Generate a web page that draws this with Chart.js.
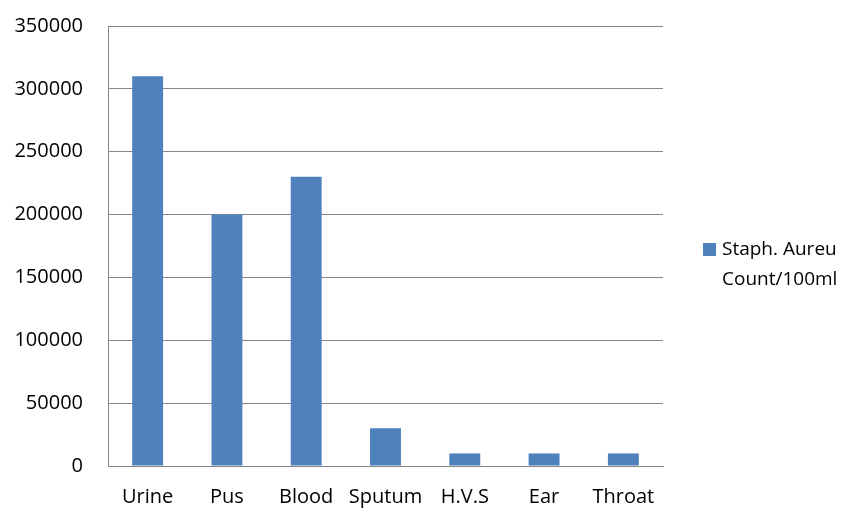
<!DOCTYPE html>
<html>
<head>
    <meta charset="UTF-8">
    <title>Staph. Aureu Count</title>
    <script src="https://cdn.jsdelivr.net/npm/chart.js"></script>
    <style>
        body { margin: 0; background: #fff; }
        #wrap { width: 855px; height: 508px; }
    </style>
</head>
<body>
    <div id="wrap"><canvas id="myChart" width="855" height="508"></canvas></div>

    <script>
        // chart data
        const categories = ['Urine', 'Pus', 'Blood', 'Sputum', 'H.V.S', 'Ear', 'Throat'];
        const counts = [310000, 200000, 230000, 30000, 10000, 10000, 10000];
        const seriesLabel = ['Staph. Aureu', 'Count/100ml'];
        const yTicks = [0, 50000, 100000, 150000, 200000, 250000, 300000, 350000];

        const fontFamily = "'Open Sans', 'Liberation Sans', sans-serif";
        const barColor = '#4F81BD';
        const gridColor = '#868686';

        // legend drawn by hand so the label can sit on two lines
        const sideLegend = {
            id: 'sideLegend',
            afterDraw: (chart) => {
                const { ctx } = chart;
                const x = chart.chartArea.right + 40;
                const y = 250;
                ctx.save();
                ctx.fillStyle = barColor;
                ctx.fillRect(x, y - 7, 13, 13);
                ctx.fillStyle = '#000';
                ctx.font = '19px ' + fontFamily;
                ctx.textBaseline = 'middle';
                seriesLabel.forEach((line, i) => {
                    ctx.fillText(line, x + 19, y + i * 30);
                });
                ctx.restore();
            }
        };

        new Chart(document.getElementById('myChart'), {
            type: 'bar',
            data: {
                labels: categories,
                datasets: [{
                    label: seriesLabel.join(' '),
                    data: counts,
                    backgroundColor: barColor,
                    borderWidth: 0,
                    barPercentage: 0.39,
                    categoryPercentage: 1
                }]
            },
            options: {
                responsive: false,
                animation: false,
                layout: { padding: { left: 0, right: 192, top: 26, bottom: 0 } },
                plugins: {
                    legend: { display: false },
                    tooltip: { enabled: false }
                },
                scales: {
                    x: {
                        grid: { display: false, drawTicks: false },
                        border: { color: gridColor, width: 1 },
                        ticks: {
                            color: '#000', padding: 19, maxRotation: 0, autoSkip: false,
                            font: { family: fontFamily, size: 20 }
                        },
                        afterFit: (axis) => {
                            axis.height = 42;
                            axis.paddingLeft = 0;
                            axis.paddingRight = 0;
                        }
                    },
                    y: {
                        min: 0,
                        max: 350000,
                        afterBuildTicks: (axis) => { axis.ticks = yTicks.map(v => ({ value: v })); },
                        grid: { color: gridColor, drawTicks: false },
                        border: { color: gridColor, width: 1 },
                        ticks: {
                            color: '#000', padding: 25,
                            font: { family: fontFamily, size: 20 },
                            callback: (v) => String(v)
                        },
                        afterFit: (axis) => {
                            axis.width = 108;
                            axis.paddingTop = 0;
                            axis.paddingBottom = 0;
                        }
                    }
                }
            },
            plugins: [sideLegend]
        });
    </script>
</body>
</html>
